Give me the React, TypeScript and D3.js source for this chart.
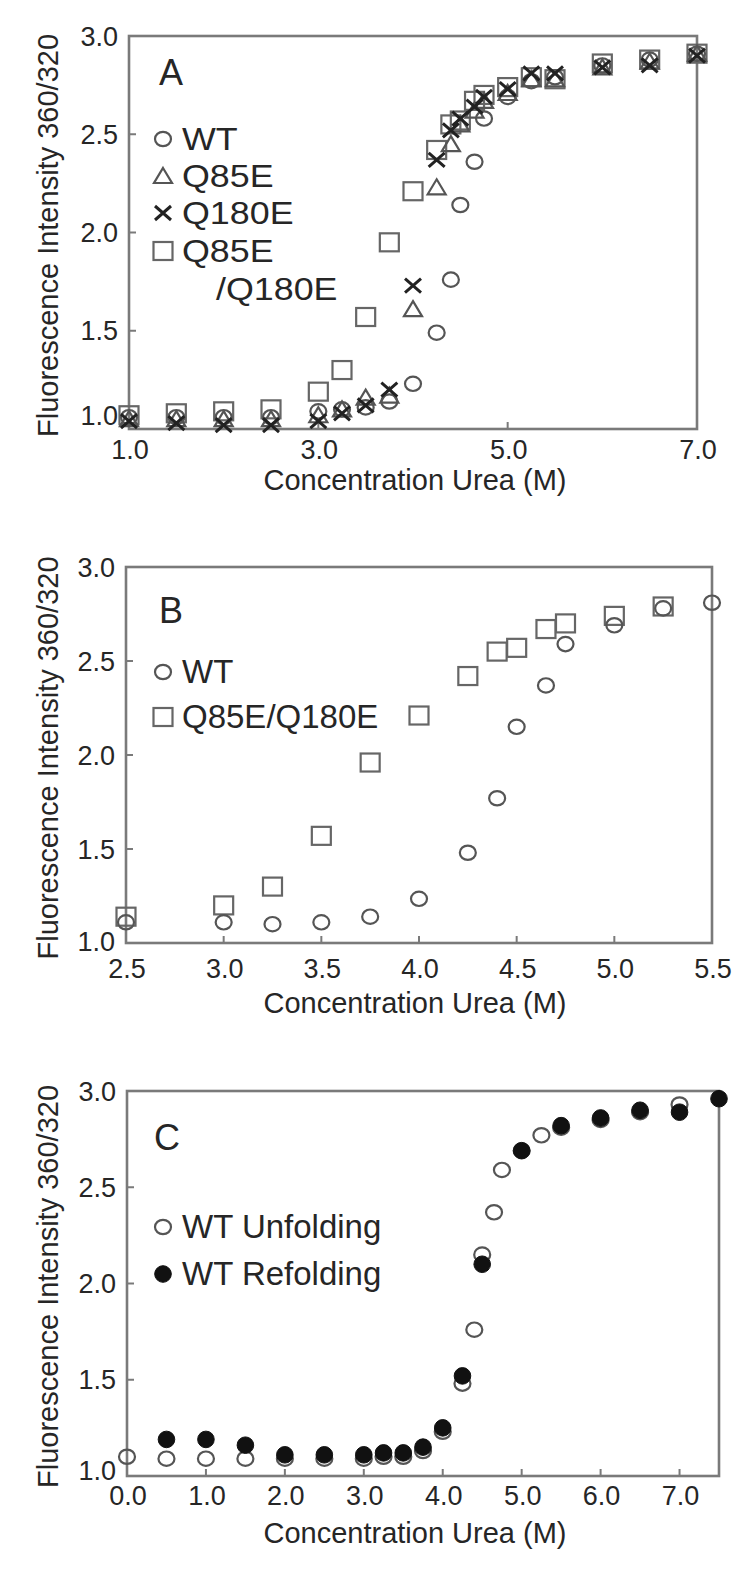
import React from "react";
import * as d3 from "d3";

// ---------- Panel A data ----------
const ureaA = [1.0, 1.5, 2.0, 2.5, 3.0, 3.25, 3.5, 3.75, 4.0, 4.25, 4.4, 4.5, 4.65, 4.75, 5.0, 5.25, 5.5, 6.0, 6.5, 7.0];
const wtA = [1.06, 1.06, 1.06, 1.06, 1.09, 1.10, 1.11, 1.14, 1.23, 1.49, 1.76, 2.14, 2.36, 2.58, 2.69, 2.77, 2.79, 2.85, 2.88, 2.91];
const q85eA = [1.05, 1.05, 1.05, 1.05, 1.07, 1.10, 1.16, 1.17, 1.61, 2.23, 2.45, 2.55, 2.62, 2.67, 2.71, 2.78, 2.78, 2.84, 2.87, 2.91];
const q180eA = [1.04, 1.03, 1.02, 1.02, 1.04, 1.08, 1.12, 1.20, 1.73, 2.37, 2.52, 2.58, 2.64, 2.69, 2.73, 2.81, 2.81, 2.84, 2.85, 2.90];
const dmA = [1.07, 1.08, 1.09, 1.10, 1.19, 1.30, 1.57, 1.95, 2.21, 2.42, 2.55, 2.57, 2.67, 2.70, 2.74, 2.79, 2.78, 2.86, 2.88, 2.91];

// ---------- Panel B data ----------
const ureaBwt = [2.5, 3.0, 3.25, 3.5, 3.75, 4.0, 4.25, 4.4, 4.5, 4.65, 4.75, 5.0, 5.25, 5.5];
const wtB = [1.11, 1.11, 1.10, 1.11, 1.14, 1.235, 1.48, 1.77, 2.15, 2.37, 2.59, 2.69, 2.78, 2.81];
const ureaBdm = [2.5, 3.0, 3.25, 3.5, 3.75, 4.0, 4.25, 4.4, 4.5, 4.65, 4.75, 5.0, 5.25];
const dmB = [1.14, 1.20, 1.30, 1.57, 1.96, 2.21, 2.42, 2.55, 2.57, 2.67, 2.70, 2.74, 2.79];

// ---------- Panel C data ----------
const ureaCunf = [0.0, 0.5, 1.0, 1.5, 2.0, 2.5, 3.0, 3.25, 3.5, 3.75, 4.0, 4.25, 4.4, 4.5, 4.65, 4.75, 5.0, 5.25, 5.5, 6.0, 6.5, 7.0];
const unfoldC = [1.10, 1.09, 1.09, 1.09, 1.09, 1.09, 1.09, 1.10, 1.10, 1.13, 1.23, 1.48, 1.76, 2.15, 2.37, 2.59, 2.69, 2.77, 2.81, 2.85, 2.89, 2.93];
const ureaCref = [0.5, 1.0, 1.5, 2.0, 2.5, 3.0, 3.25, 3.5, 3.75, 4.0, 4.25, 4.5, 5.0, 5.5, 6.0, 6.5, 7.0, 7.5];
const refoldC = [1.19, 1.19, 1.16, 1.11, 1.11, 1.11, 1.12, 1.12, 1.15, 1.25, 1.52, 2.10, 2.69, 2.82, 2.86, 2.90, 2.89, 2.96];

// ---------- ticks ----------
const yTicks = [1.0, 1.5, 2.0, 2.5, 3.0];
const xTicksA = [1.0, 3.0, 5.0, 7.0];
const xTicksB = [2.5, 3.0, 3.5, 4.0, 4.5, 5.0, 5.5];
const xTicksC = [0, 1, 2, 3, 4, 5, 6, 7];

const FONT = "'Liberation Sans', Arial, sans-serif";
const AXIS = "#7a7a7a";
const TXT = "#262626";

type Kind = "circle" | "triangle" | "cross" | "square" | "filled";

function Marker({ kind, x, y }: { kind: Kind; x: number; y: number }) {
  switch (kind) {
    case "circle":
      return <ellipse cx={x} cy={y} rx={8} ry={7.2} fill="none" stroke="#555" strokeWidth={2.2} />;
    case "filled":
      return <circle cx={x} cy={y} r={8.3} fill="#111" stroke="#111" strokeWidth={1} />;
    case "square":
      return <rect x={x - 9.5} y={y - 9} width={19} height={18} fill="none" stroke="#666" strokeWidth={2.2} />;
    case "triangle":
      return (
        <path d={`M${x},${y - 8}L${x + 9},${y + 7}L${x - 9},${y + 7}Z`} fill="none" stroke="#555" strokeWidth={2.2} />
      );
    case "cross":
      return (
        <path
          d={`M${x - 8},${y - 7}L${x + 8},${y + 7}M${x + 8},${y - 7}L${x - 8},${y + 7}`}
          stroke="#222"
          strokeWidth={3}
          fill="none"
        />
      );
  }
  return null;
}

type Series = { xs: number[]; ys: number[]; kind: Kind };
type LegendItem = { kind: Kind; lines: string[]; y: number };

type PanelProps = {
  left: number;
  right: number;
  top: number;
  bottom: number;
  xDomain: [number, number];
  xTicks: number[];
  series: Series[];
  letter: string;
  letterX: number;
  letterY: number;
  legend: LegendItem[];
  legendFont: number;
  legendStretch: number;
  legendGap: number;
  xLabelY: number;
  titleY: number;
  yTitleX: number;
  yLabelShift1: number;
};

function Panel(p: PanelProps) {
  const x = d3.scaleLinear().domain(p.xDomain).range([p.left, p.right]);
  const y = d3.scaleLinear().domain([1, 3]).range([p.bottom, p.top]);
  const midY = (p.top + p.bottom) / 2 + 3;
  return (
    <g>
      <rect
        x={p.left}
        y={p.top}
        width={p.right - p.left}
        height={p.bottom - p.top}
        fill="none"
        stroke={AXIS}
        strokeWidth={2.6}
      />
      {yTicks.map((t) => (
        <g key={"y" + t}>
          <line x1={p.left} x2={p.left + 7} y1={y(t)} y2={y(t)} stroke={AXIS} strokeWidth={2} />
          <text
            x={p.left - 11}
            y={y(t) + (t === 1 ? p.yLabelShift1 : 0)}
            dy="0.36em"
            textAnchor="end"
            fontFamily={FONT}
            fontSize={27}
            fill={TXT}
          >
            {d3.format(".1f")(t)}
          </text>
        </g>
      ))}
      {p.xTicks.map((t) => (
        <g key={"x" + t}>
          <line x1={x(t)} x2={x(t)} y1={p.bottom} y2={p.bottom - 7} stroke={AXIS} strokeWidth={2} />
          <text x={x(t) + 1} y={p.xLabelY} textAnchor="middle" fontFamily={FONT} fontSize={27} fill={TXT}>
            {d3.format(".1f")(t)}
          </text>
        </g>
      ))}
      <text x={415} y={p.titleY} textAnchor="middle" fontFamily={FONT} fontSize={29} fill={TXT}>
        Concentration Urea (M)
      </text>
      <text
        transform={`translate(${p.yTitleX},${midY}) rotate(-90)`}
        textAnchor="middle"
        fontFamily={FONT}
        fontSize={29}
        fill={TXT}
      >
        Fluorescence Intensity 360/320
      </text>
      <text x={p.letterX} y={p.letterY} fontFamily={FONT} fontSize={36} fill={TXT}>
        {p.letter}
      </text>
      {p.legend.map((l, i) => (
        <g key={"l" + i}>
          <Marker kind={l.kind} x={163} y={l.y - 11} />
          {l.lines.map((s, j) => (
            <text
              key={j}
              transform={`translate(${j === 0 ? 182 : 216},${l.y + j * p.legendGap}) scale(${p.legendStretch},1)`}
              fontFamily={FONT}
              fontSize={p.legendFont}
              fill={TXT}
            >
              {s}
            </text>
          ))}
        </g>
      ))}
      {p.series.map((s, si) => (
        <g key={"s" + si}>
          {s.xs.map((v, i) => (
            <Marker key={i} kind={s.kind} x={x(v)} y={y(s.ys[i])} />
          ))}
        </g>
      ))}
    </g>
  );
}

export default function App() {
  return (
    <svg
      width={752}
      height={1569}
      viewBox="0 0 752 1569"
      style={{ position: "absolute", left: 0, top: 0, background: "#fff" }}
    >
      <rect x={0} y={0} width={752} height={1569} fill="#fff" />
      <Panel
        left={129}
        right={697}
        top={36}
        bottom={429}
        xDomain={[1, 7]}
        xTicks={xTicksA}
        series={[
          { xs: ureaA, ys: dmA, kind: "square" },
          { xs: ureaA, ys: q85eA, kind: "triangle" },
          { xs: ureaA, ys: wtA, kind: "circle" },
          { xs: ureaA, ys: q180eA, kind: "cross" },
        ]}
        letter="A"
        letterX={159}
        letterY={85}
        legend={[
          { kind: "circle", lines: ["WT"], y: 150 },
          { kind: "triangle", lines: ["Q85E"], y: 187 },
          { kind: "cross", lines: ["Q180E"], y: 224 },
          { kind: "square", lines: ["Q85E", "/Q180E"], y: 262 },
        ]}
        legendFont={32}
        legendStretch={1.12}
        legendGap={38}
        xLabelY={459}
        titleY={490}
        yTitleX={58}
        yLabelShift1={-14}
      />
      <Panel
        left={126}
        right={712}
        top={567}
        bottom={943}
        xDomain={[2.5, 5.5]}
        xTicks={xTicksB}
        series={[
          { xs: ureaBdm, ys: dmB, kind: "square" },
          { xs: ureaBwt, ys: wtB, kind: "circle" },
        ]}
        letter="B"
        letterX={159}
        letterY={623}
        legend={[
          { kind: "circle", lines: ["WT"], y: 683 },
          { kind: "square", lines: ["Q85E/Q180E"], y: 728 },
        ]}
        legendFont={33}
        legendStretch={1}
        legendGap={38}
        xLabelY={978}
        titleY={1013}
        yTitleX={58}
        yLabelShift1={-2}
      />
      <Panel
        left={127}
        right={719}
        top={1091}
        bottom={1476}
        xDomain={[0, 7.5]}
        xTicks={xTicksC}
        series={[
          { xs: ureaCunf, ys: unfoldC, kind: "circle" },
          { xs: ureaCref, ys: refoldC, kind: "filled" },
        ]}
        letter="C"
        letterX={154}
        letterY={1150}
        legend={[
          { kind: "circle", lines: ["WT Unfolding"], y: 1238 },
          { kind: "filled", lines: ["WT Refolding"], y: 1285 },
        ]}
        legendFont={33}
        legendStretch={1}
        legendGap={38}
        xLabelY={1505}
        titleY={1543}
        yTitleX={58}
        yLabelShift1={-6}
      />
    </svg>
  );
}
